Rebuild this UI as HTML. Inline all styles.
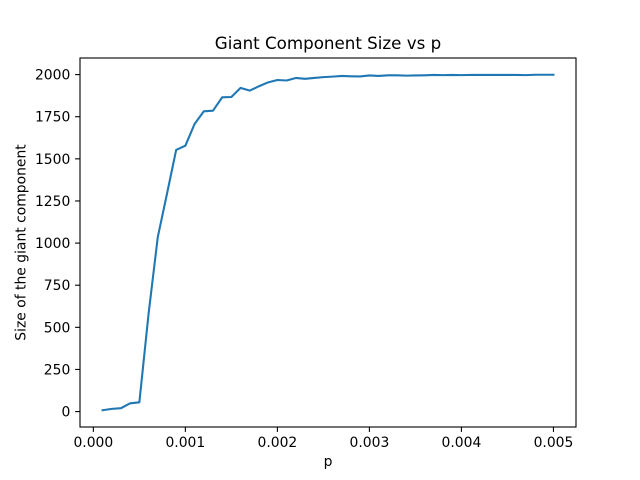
<!DOCTYPE html>
<html><head><meta charset="utf-8">
<style>
html,body{margin:0;padding:0;background:#fff;}
svg{display:block;font-family:"DejaVu Sans","Liberation Sans",sans-serif;}
</style></head>
<body>
<svg id="chart" width="640" height="480" viewBox="0 0 640 480">
<rect x="0" y="0" width="640" height="480" fill="#fff"/>
<text x="328" y="49" text-anchor="middle" font-size="16.7">Giant Component Size vs p</text>
<g id="xticks"></g>
<g id="yticks"></g>
<text x="328" y="466" text-anchor="middle" font-size="13.9">p</text>
<text transform="translate(25.5,242.5) rotate(-90)" text-anchor="middle" font-size="13.9">Size of the giant component</text>
<path id="line" fill="none" stroke="#1f77b4" stroke-width="2.08" stroke-linejoin="round" stroke-linecap="square"/>
<rect x="80" y="58" width="496" height="369" fill="none" stroke="#000" stroke-width="1.1"/>
</svg>
<script>
const pValues = [0.0001,0.0002,0.0003,0.0004,0.0005,0.0006,0.0007,0.0008,0.0009,0.0010,
0.0011,0.0012,0.0013,0.0014,0.0015,0.0016,0.0017,0.0018,0.0019,0.0020,
0.0021,0.0022,0.0023,0.0024,0.0025,0.0026,0.0027,0.0028,0.0029,0.0030,
0.0031,0.0032,0.0033,0.0034,0.0035,0.0036,0.0037,0.0038,0.0039,0.0040,
0.0041,0.0042,0.0043,0.0044,0.0045,0.0046,0.0047,0.0048,0.0049,0.0050];
const sizes = [8,16,20,49,55,580,1035,1292,1553,1578,
1707,1782,1786,1865,1867,1921,1905,1931,1954,1968,
1965,1980,1975,1980,1985,1988,1992,1990,1989,1995,
1992,1996,1996,1994,1995,1996,1998,1997,1998,1997,
1998,1998,1998,1998,1998,1998,1997,1999,1999,1999];
const xTicks = [0,0.001,0.002,0.003,0.004,0.005];
const xTickLabels = ["0.000","0.001","0.002","0.003","0.004","0.005"];
const yTicks = [0,250,500,750,1000,1250,1500,1750,2000];

const L=80,R=576,T=58,B=427;
const xmin=Math.min(...pValues), xmax=Math.max(...pValues);
const xpad=(xmax-xmin)*0.05;
const ymin=Math.min(...sizes), ymax=Math.max(...sizes);
const ypad=(ymax-ymin)*0.05;
const X=v=>L+(v-(xmin-xpad))/((xmax+xpad)-(xmin-xpad))*(R-L);
const Y=v=>B-(v-(ymin-ypad))/((ymax+ypad)-(ymin-ypad))*(B-T);
const NS="http://www.w3.org/2000/svg";

const xg=document.getElementById('xticks');
xTicks.forEach((t,i)=>{
  const x=X(t);
  const ln=document.createElementNS(NS,'line');
  ln.setAttribute('x1',x);ln.setAttribute('x2',x);ln.setAttribute('y1',B);ln.setAttribute('y2',B+4.9);
  ln.setAttribute('stroke','#000');ln.setAttribute('stroke-width','1.1');
  
  
  xg.appendChild(ln);
  const tx=document.createElementNS(NS,'text');
  tx.setAttribute('x',x);tx.setAttribute('y',B+20);tx.setAttribute('text-anchor','middle');tx.setAttribute('font-size','13.9');
  tx.textContent=xTickLabels[i];
  
  
  xg.appendChild(tx);
});
const yg=document.getElementById('yticks');
yTicks.forEach(t=>{
  const y=Y(t);
  const ln=document.createElementNS(NS,'line');
  ln.setAttribute('x1',L-4.9);ln.setAttribute('x2',L);ln.setAttribute('y1',y);ln.setAttribute('y2',y);
  ln.setAttribute('stroke','#000');ln.setAttribute('stroke-width','1.1');
  
  
  yg.appendChild(ln);
  const tx=document.createElementNS(NS,'text');
  tx.setAttribute('x',L-9.7);tx.setAttribute('y',y+5);tx.setAttribute('text-anchor','end');tx.setAttribute('font-size','13.9');
  tx.textContent=String(t);
  
  
  yg.appendChild(tx);
});
document.getElementById('line').setAttribute('d',
  pValues.map((p,i)=>(i?'L':'M')+X(p).toFixed(2)+','+Y(sizes[i]).toFixed(2)).join(' '));
</script>
</body></html>
